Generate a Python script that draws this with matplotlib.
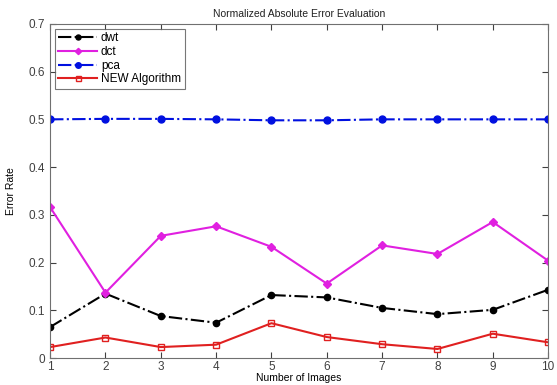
import numpy as np
from matplotlib import pyplot as plt
from matplotlib.ticker import FuncFormatter

plt.rcParams['font.family'] = ['Liberation Sans', 'DejaVu Sans']

# error rate per image count
images = [1, 2, 3, 4, 5, 6, 7, 8, 9, 10]
dwt = [0.065, 0.135, 0.088, 0.074, 0.132, 0.127, 0.105, 0.092, 0.101, 0.143]
dct = [0.316, 0.137, 0.256, 0.276, 0.233, 0.156, 0.236, 0.218, 0.285, 0.204]
pca = [0.500, 0.501, 0.501, 0.500, 0.498, 0.498, 0.500, 0.500, 0.500, 0.500]
new_alg = [0.023, 0.043, 0.023, 0.028, 0.073, 0.044, 0.029, 0.019, 0.051, 0.033]

fig = plt.figure(figsize=(5.57, 3.85), dpi=100)
ax = fig.add_axes([0.09, 0.07, 0.894, 0.868])

ax.plot(images, dwt, color='black', linestyle='-.', linewidth=1.5, marker='o', markersize=4.5, label='dwt')
ax.plot(images, dct, color='#e020e0', linestyle='-', linewidth=1.5, marker='D', markersize=4, label='dct')
ax.plot(images, pca, color='#0010e0', linestyle='-.', linewidth=1.5, marker='o', markersize=5, label='pca')
ax.plot(images, new_alg, color='#e02020', linestyle='-', linewidth=1.5, marker='s', markersize=4.5,
        markerfacecolor='none', label='NEW Algorithm')

ax.set_xlim(1, 10)
ax.set_ylim(0, 0.7)
ax.set_xticks(images)
ax.set_yticks(np.arange(0, 0.71, 0.1))
ax.yaxis.set_major_formatter(FuncFormatter(lambda v, p: '0' if v == 0 else '%.1f' % v))
ax.tick_params(direction='in', top=True, right=True, labelsize=8.5, colors='#404040', length=4)
ax.tick_params(axis='x', pad=2)
for s in ax.spines.values():
    s.set_color('#707070')

ax.set_title('Normalized Absolute Error Evaluation', fontsize=7.5, color='#202020', pad=5)
ax.set_xlabel('Number of Images', fontsize=7.5, labelpad=0)
ax.set_ylabel('Error Rate', fontsize=7.5, labelpad=9)

leg = ax.legend(loc='upper left', fontsize=8.5, fancybox=False, borderpad=0.3, labelspacing=0.15,
                handlelength=3.3, handletextpad=0.3, borderaxespad=0.4, markerscale=0.8)
leg.get_frame().set_edgecolor('#555555')
leg.get_frame().set_linewidth(0.8)

fig.savefig('out.png')
